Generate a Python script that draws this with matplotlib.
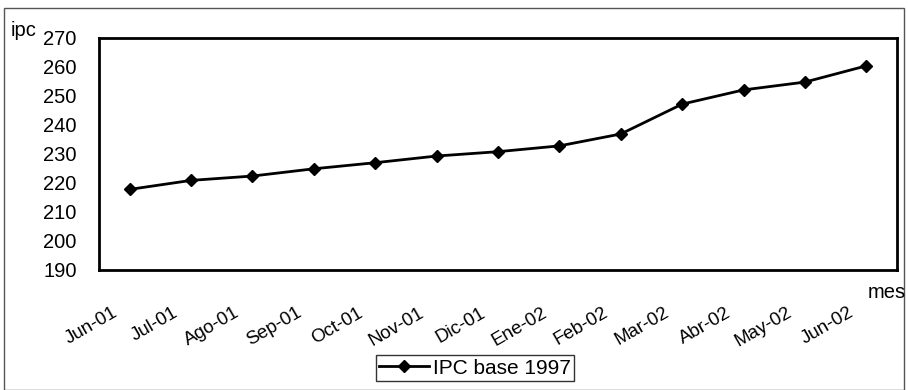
import matplotlib
matplotlib.use("Agg")
import matplotlib.pyplot as plt
from matplotlib.patches import Rectangle
from matplotlib.transforms import ScaledTranslation

# IPC base 1997, monthly values
meses = ["Jun-01", "Jul-01", "Ago-01", "Sep-01", "Oct-01", "Nov-01", "Dic-01",
         "Ene-02", "Feb-02", "Mar-02", "Abr-02", "May-02", "Jun-02"]
ipc = [217.8, 220.9, 222.4, 224.9, 227.0, 229.3, 230.8,
       232.8, 236.9, 247.2, 252.1, 254.8, 260.4]
y_ticks = [190, 200, 210, 220, 230, 240, 250, 260, 270]

plt.rcParams['font.family'] = ['Liberation Sans', 'DejaVu Sans']

fig = plt.figure(figsize=(9.08, 3.9), dpi=100)
ax = fig.add_axes([99 / 908, 1 - 270 / 390, 798 / 908, 232 / 390])

x = list(range(len(meses)))
ax.plot(x, ipc, color='black', lw=2, marker='D', ms=6.5,
        markerfacecolor='black', label='IPC base 1997')

ax.set_xlim(-0.5, len(meses) - 0.5)
ax.set_ylim(190, 270)
ax.set_yticks(y_ticks)
ax.set_yticklabels([str(v) for v in y_ticks], fontsize=14.5)
ax.set_xticks(x)
ax.set_xticklabels(meses, rotation=30, ha='right', va='center',
                   rotation_mode='anchor', fontsize=13.5)
ax.tick_params(axis='y', length=0, pad=16)
ax.tick_params(axis='x', length=0, pad=30)
# shift the month labels a bit left of their tick
shift = ScaledTranslation(-10 / 72, 0, fig.dpi_scale_trans)
for lbl in ax.get_xticklabels():
    lbl.set_transform(lbl.get_transform() + shift)
for s in ax.spines.values():
    s.set_linewidth(2)

fig.text(11 / 908, 1 - 30 / 390, "ipc", fontsize=14.5, va='center', ha='left')
fig.text(868 / 908, 1 - 292 / 390, "mes", fontsize=14.5, va='center', ha='left')

leg = ax.legend(loc='center', bbox_to_anchor=(475 / 908, 1 - 368 / 390),
                bbox_transform=fig.transFigure, fontsize=15, frameon=True,
                fancybox=False, edgecolor='black', handlelength=2.4,
                handletextpad=0.2, borderpad=0.15, borderaxespad=0)
leg.get_frame().set_linewidth(1)

# thin outer border like the scanned page
fig.patches.append(Rectangle((4 / 908, 0), 1 - 8 / 908, 1 - 8 / 390,
                             transform=fig.transFigure, fill=False,
                             edgecolor='#555555', lw=1))

fig.savefig("out.png", dpi=100)
